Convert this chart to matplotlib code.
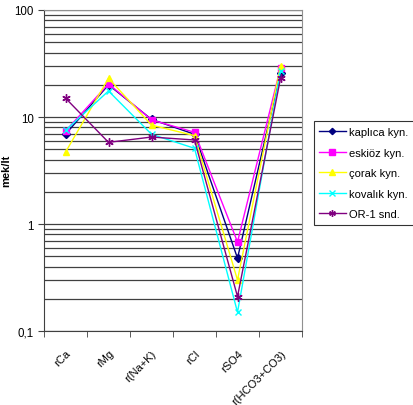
import numpy as np
import matplotlib.pyplot as plt
from matplotlib.ticker import FixedLocator, NullFormatter

plt.rcParams['font.family'] = ['Liberation Sans', 'DejaVu Sans']

# kategoriler ve seriler (mek/lt)
kategoriler = ['rCa', 'rMg', 'r(Na+K)', 'rCl', 'rSO4', 'r(HCO3+CO3)']
kaplica = [6.9, 20.0, 9.5, 6.9, 0.48, 26]
eskioz = [7.4, 20.4, 9.4, 7.2, 0.68, 29]
corak = [4.7, 23.0, 8.4, 6.7, 0.30, 30]
kovalik = [7.5, 17.5, 6.9, 5.1, 0.15, 27]
or1 = [15.0, 5.8, 6.5, 6.1, 0.21, 23]

seriler = [
    ('kaplıca kyn.', kaplica, '#000080', 'D', 4),
    ('eskiöz kyn.', eskioz, '#FF00FF', 's', 5),
    ('çorak kyn.', corak, '#FFFF00', '^', 5),
    ('kovalık kyn.', kovalik, '#00FFFF', 'x', 5),
    ('OR-1 snd.', or1, '#800080', (6, 2, 0), 6),
]

fig = plt.figure(figsize=(4.14, 4.06), dpi=100)
ax = fig.add_axes([0.1063, 0.182, 0.6232, 0.791])

x = np.arange(len(kategoriler))
for ad, deger, renk, mk, ms in seriler:
    ax.plot(x, deger, color=renk, marker=mk, markersize=ms, linewidth=1,
            markeredgewidth=1, label=ad)

ax.set_yscale('log')
ax.set_ylim(0.1, 100)
ax.set_xlim(-0.5, len(kategoriler) - 0.5)

# yatay izgara: tum log cizgileri
izgara = [m * 10.0 ** e for e in (-1, 0, 1) for m in range(1, 10)] + [100]
for g in izgara:
    ax.axhline(g, color='#404040', linewidth=0.9, zorder=0)

ax.yaxis.set_major_locator(FixedLocator([0.1, 1, 10, 100]))
ax.yaxis.set_minor_locator(FixedLocator([]))
ax.set_yticklabels(['0,1', '1', '10', '100'])
ax.yaxis.set_minor_formatter(NullFormatter())

ax.set_xticks(x)
ax.set_xticklabels(kategoriler, rotation=45, ha='right', rotation_mode='anchor')
ax.set_xticks(np.arange(-0.5, len(kategoriler)), minor=True)
ax.tick_params(axis='x', which='major', length=0, pad=12, labelsize=8)
ax.tick_params(axis='x', which='minor', length=4, color='#404040')
ax.tick_params(axis='y', which='major', length=4, labelsize=8.3, color='#404040')

for s in ['top', 'right']:
    ax.spines[s].set_color('#909090')
for s in ['left', 'bottom']:
    ax.spines[s].set_color('#404040')

fig.text(0.004, 0.58, 'mek/lt', rotation=90, fontsize=8, fontweight='bold',
         ha='left', va='center')

leg = fig.legend(loc='upper left', bbox_to_anchor=(0.752, 0.704), fontsize=8,
                 frameon=True, fancybox=False, edgecolor='black',
                 handlelength=2.4, borderpad=0.5, labelspacing=0.95,
                 handletextpad=0.3, borderaxespad=0.2, markerscale=0.8)
leg.get_frame().set_linewidth(0.8)

fig.savefig('out.png', dpi=100)
